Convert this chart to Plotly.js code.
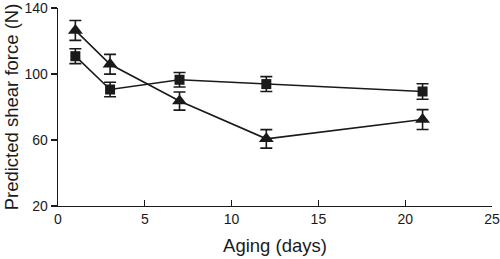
<!DOCTYPE html>
<html>
<head>
<meta charset="utf-8">
<script src="https://cdn.plot.ly/plotly-3.0.1.min.js"></script>
<style>html,body{margin:0;padding:0;background:#fff;}#chart{width:500px;height:259px;}</style>
</head>
<body>
<div id="chart"></div>
<script>
const days = [1, 3, 7, 12, 21];
const squareValues = [110.8, 90.6, 96.5, 93.9, 89.4];
const squareErrors = [4.5, 4.4, 4.4, 4.5, 4.7];
const triangleValues = [126.4, 105.9, 83.6, 60.7, 72.4];
const triangleErrors = [6.0, 6.0, 5.5, 5.6, 6.0];
const xTicks = [0, 5, 10, 15, 20, 25];
const yTicks = [20, 60, 100, 140];

const ink = '#1a1a1a';
function series(y, err, symbol, size) {
  return {
    x: days, y: y, type: 'scatter', mode: 'lines+markers',
    line: {color: ink, width: 1.6},
    marker: {symbol: symbol, size: size, color: ink},
    error_y: {type: 'data', array: err, visible: true, color: ink, thickness: 1.6, width: 6},
    showlegend: false, hoverinfo: 'skip', cliponaxis: false
  };
}
const data = [
  series(squareValues, squareErrors, 'square', 10),
  series(triangleValues, triangleErrors, 'triangle-up', 13)
];
const font = {family: 'Liberation Sans, Arial, Helvetica, sans-serif', color: ink};
const layout = {
  width: 500, height: 259,
  margin: {l: 57.5, r: 7.5, t: 8, b: 53.3, pad: 0},
  paper_bgcolor: '#fff', plot_bgcolor: '#fff',
  font: font,
  xaxis: {
    range: [0, 25], tickvals: xTicks, ticktext: xTicks.map(String),
    showgrid: false, zeroline: false, showline: true, linecolor: ink, linewidth: 1.3,
    ticks: 'inside', ticklen: 6, tickwidth: 1.3, tickcolor: ink,
    tickfont: {size: 14, family: font.family, color: ink},
    ticklabeloverflow: 'allow',
    title: {text: 'Aging (days)', font: {size: 18.5, family: font.family, color: ink}, standoff: 13}
  },
  yaxis: {
    range: [20, 140], tickvals: yTicks, ticktext: yTicks.map(String),
    showgrid: false, zeroline: false, showline: true, linecolor: ink, linewidth: 1.3,
    ticks: 'outside', ticklen: 6, tickwidth: 1.3, tickcolor: ink,
    tickfont: {size: 14, family: font.family, color: ink},
    ticklabeloverflow: 'allow',
    title: {text: 'Predicted shear force (N)', font: {size: 18.5, family: font.family, color: ink}, standoff: 1}
  }
};
Plotly.newPlot('chart', data, layout, {displayModeBar: false, staticPlot: true});
</script>
</body>
</html>
